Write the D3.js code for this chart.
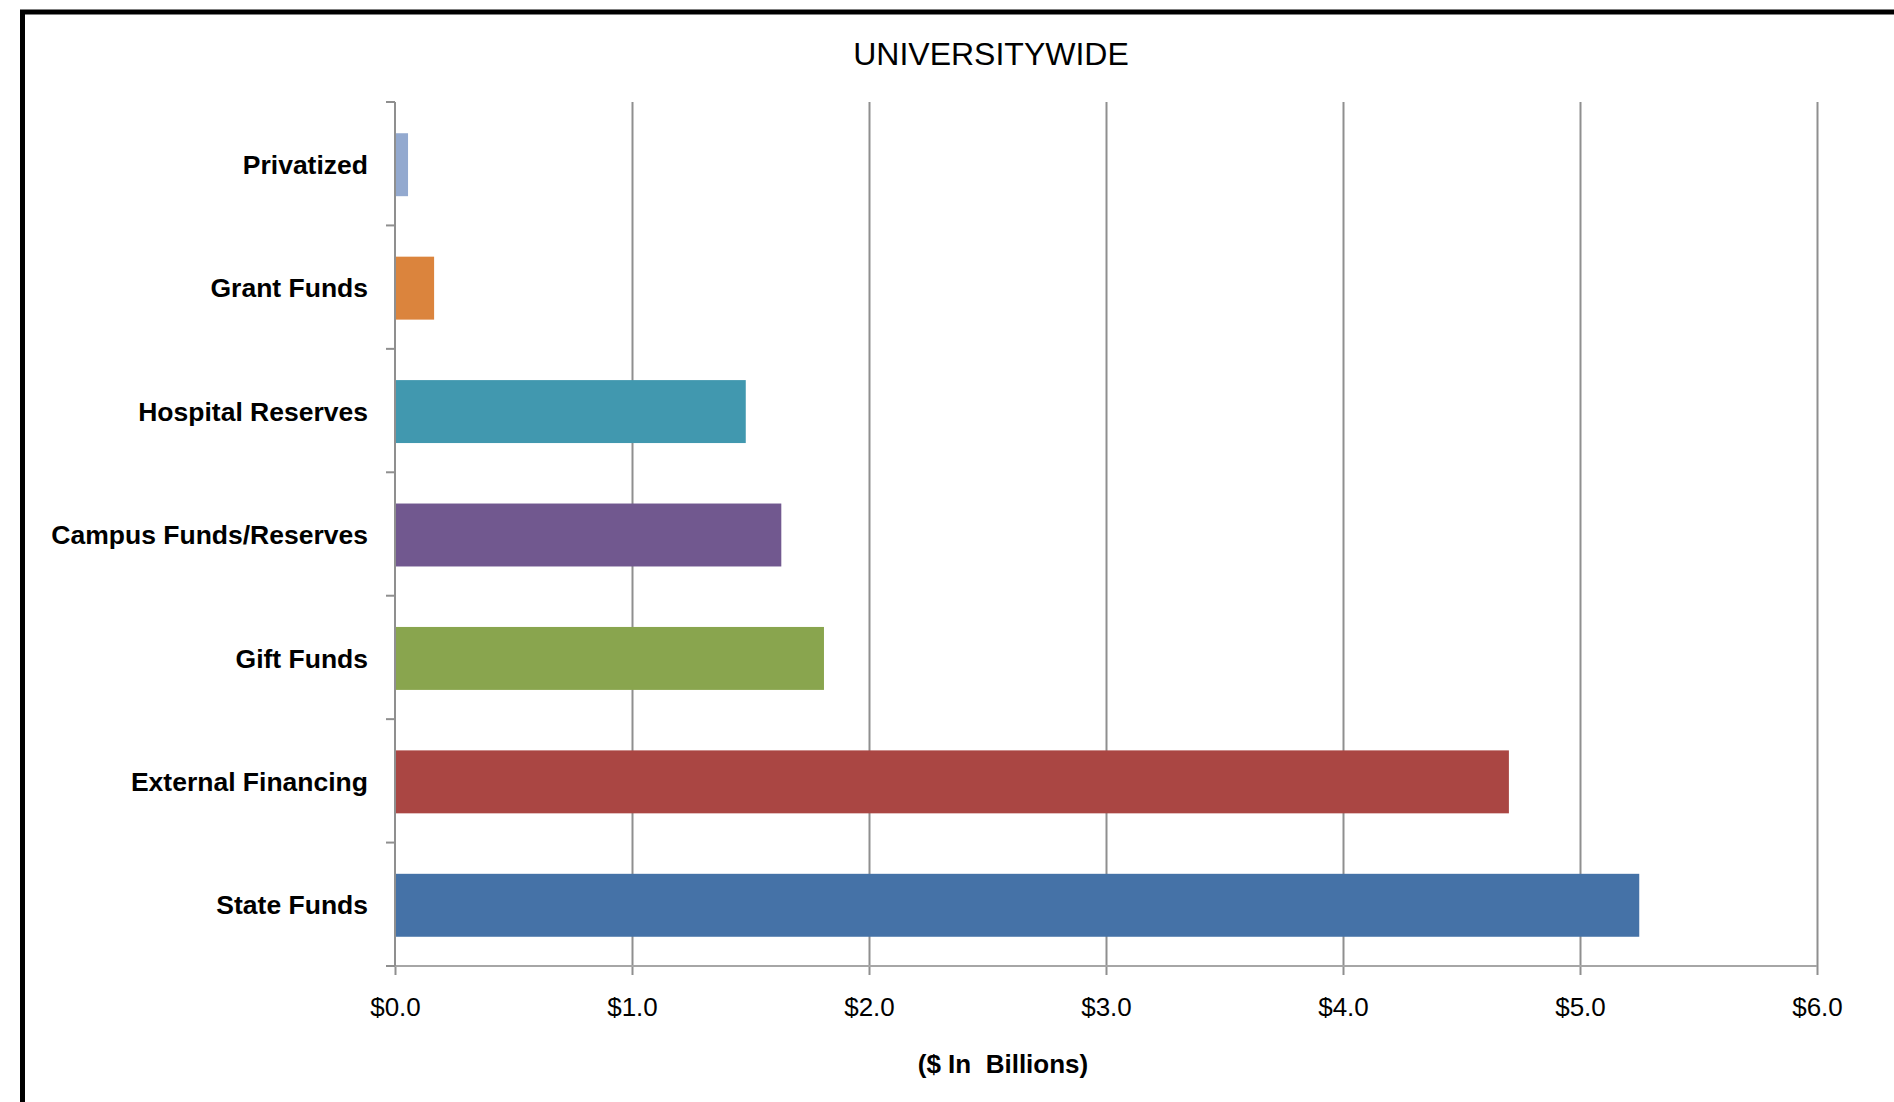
<!DOCTYPE html>
<html>
<head>
<meta charset="utf-8">
<script src="https://cdn.jsdelivr.net/npm/d3@7"></script>
<style>
  html, body { margin: 0; padding: 0; background: #fff; overflow: hidden; }
  svg { display: block; font-family: "Liberation Sans", Arial, sans-serif; }
</style>
</head>
<body>
<div id="chart"></div>
<script>
// categories listed top to bottom
const categories = ['Privatized', 'Grant Funds', 'Hospital Reserves', 'Campus Funds/Reserves',
    'Gift Funds', 'External Financing', 'State Funds'];
const values = [0.055, 0.165, 1.48, 1.63, 1.81, 4.70, 5.25];   // $ billions
const barColors = ['#93A9CF', '#DB843D', '#4198AF', '#71588F', '#89A54E', '#AA4643', '#4572A7'];
const xTicks = [0, 1, 2, 3, 4, 5, 6];
const title = 'UNIVERSITYWIDE';
const xTitle = '($ In  Billions)';

const width = 1894;
const height = 1102;
const plot = { left: 395, right: 1817, top: 102, bottom: 966 };

const data = categories.map((c, i) => ({ name: c, value: values[i], color: barColors[i] }));

const svg = d3.select('#chart')
    .append('svg')
    .attr('width', width)
    .attr('height', height);

// heavy frame that runs off the right and bottom of the page
svg.append('rect')
    .attr('x', 22.5)
    .attr('y', 12)
    .attr('width', width + 50)
    .attr('height', height + 50)
    .attr('fill', 'none')
    .attr('stroke', '#000')
    .attr('stroke-width', 5);

const x = d3.scaleLinear()
    .domain([0, 6])
    .range([plot.left, plot.right]);

const y = d3.scaleBand()
    .domain(categories)
    .range([plot.top, plot.bottom])
    .paddingInner(0.49)
    .paddingOuter(0.245);

// vertical gridlines
const grid = svg.append('g')
    .attr('transform', `translate(0,${plot.bottom})`)
    .call(d3.axisBottom(x).tickValues(xTicks.slice(1)).tickSize(-(plot.bottom - plot.top)).tickFormat(''));
grid.select('.domain').remove();
grid.selectAll('line').attr('stroke', '#8f8f8f').attr('stroke-width', 2);

// bars
svg.selectAll('rect.bar')
    .data(data)
    .enter()
    .append('rect')
    .attr('class', 'bar')
    .attr('x', x(0))
    .attr('y', d => y(d.name) + 1)
    .attr('width', d => x(d.value) - x(0))
    .attr('height', y.bandwidth())
    .attr('fill', d => d.color);

// x axis
const xAxis = svg.append('g')
    .attr('transform', `translate(0,${plot.bottom})`)
    .call(d3.axisBottom(x).tickValues(xTicks).tickSize(9).tickFormat(d => '$' + d.toFixed(1)));
xAxis.select('.domain').remove();
xAxis.selectAll('line').attr('stroke', '#8f8f8f').attr('stroke-width', 2);
xAxis.selectAll('text')
    .attr('y', 50)
    .attr('dy', 0)
    .attr('fill', '#000')
    .attr('font-size', 26)
    .attr('font-family', '"Liberation Sans", Arial, sans-serif');
xAxis.append('line')
    .attr('x1', plot.left - 9)
    .attr('x2', plot.right)
    .attr('y1', 0)
    .attr('y2', 0)
    .attr('stroke', '#a6a6a6')
    .attr('stroke-width', 2);

// y axis: labels at band centres, ticks on band edges
const yAxis = svg.append('g')
    .attr('transform', `translate(${plot.left},0)`)
    .call(d3.axisLeft(y).tickSize(0).tickPadding(27));
yAxis.select('.domain').remove();
yAxis.selectAll('text')
    .attr('dy', '0.38em')
    .attr('fill', '#000')
    .attr('font-size', 26.5)
    .attr('font-weight', 'bold')
    .attr('font-family', '"Liberation Sans", Arial, sans-serif');

const edges = d3.range(categories.length + 1).map(i => plot.top + i * y.step());
yAxis.selectAll('line.edge')
    .data(edges)
    .enter()
    .append('line')
    .attr('class', 'edge')
    .attr('x1', -9)
    .attr('x2', 0)
    .attr('y1', d => d)
    .attr('y2', d => d)
    .attr('stroke', '#8f8f8f')
    .attr('stroke-width', 2);
yAxis.append('line')
    .attr('x1', 0)
    .attr('x2', 0)
    .attr('y1', plot.top)
    .attr('y2', plot.bottom)
    .attr('stroke', '#8f8f8f')
    .attr('stroke-width', 2);

// titles
svg.append('text')
    .attr('x', 991)
    .attr('y', 65)
    .attr('text-anchor', 'middle')
    .attr('font-size', 32)
    .text(title);

svg.append('text')
    .attr('x', 1003)
    .attr('y', 1073)
    .attr('text-anchor', 'middle')
    .attr('font-size', 26)
    .attr('font-weight', 'bold')
    .style('white-space', 'pre')
    .text(xTitle);
</script>
</body>
</html>
